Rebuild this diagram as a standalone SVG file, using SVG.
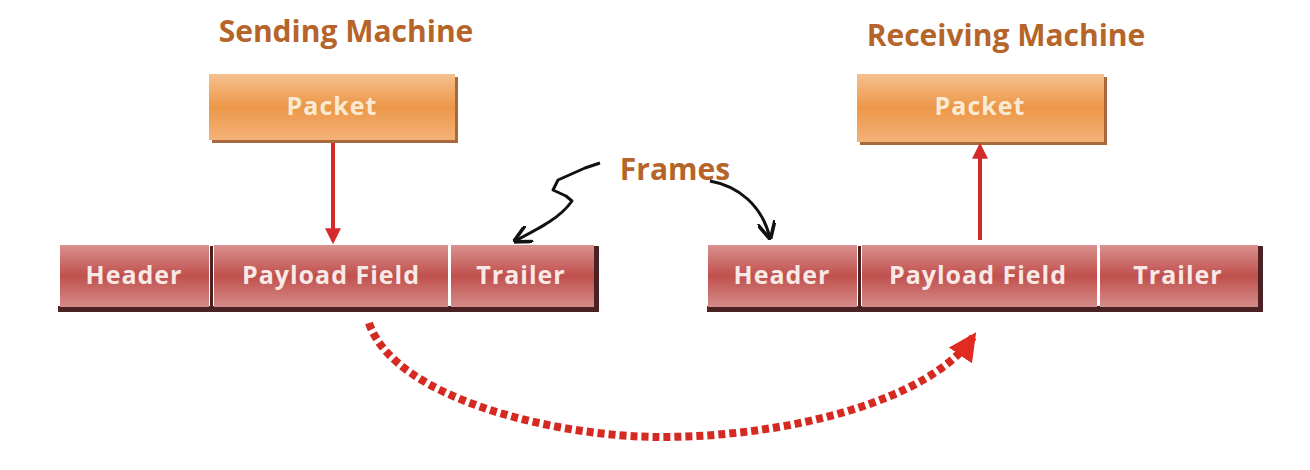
<svg xmlns="http://www.w3.org/2000/svg" width="1310" height="470" viewBox="0 0 1310 470">
<defs>
<linearGradient id="gOrange" x1="0" y1="0" x2="0" y2="1">
<stop offset="0" stop-color="#f6c08f"/>
<stop offset="0.5" stop-color="#ec9748"/>
<stop offset="1" stop-color="#f4b27a"/>
</linearGradient>
<linearGradient id="gRed" x1="0" y1="0" x2="0" y2="1">
<stop offset="0" stop-color="#d9918f"/>
<stop offset="0.5" stop-color="#c0504d"/>
<stop offset="1" stop-color="#d58c8a"/>
</linearGradient>
<marker id="aRed" viewBox="0 0 10 10" refX="8" refY="5" markerWidth="4" markerHeight="4" orient="auto">
<path d="M0,0 L10,5 L0,10 z" fill="#d42a2a"/>
</marker>
<marker id="aRed2" viewBox="0 0 10 10" refX="8" refY="5" markerWidth="3.5" markerHeight="3.5" orient="auto">
<path d="M0,0 L10,5 L0,10 z" fill="#e02a22"/>
</marker>
<marker id="aBlack" viewBox="0 0 10 10" refX="9" refY="5" markerWidth="6" markerHeight="6" orient="auto">
<path d="M0,0 L10,5 L0,10" fill="none" stroke="#111" stroke-width="2"/>
</marker>
</defs>
<style>
.title{font-family:"Open Sans","Liberation Sans",sans-serif;font-weight:bold;font-size:30px;fill:#b5652a;text-anchor:middle;}
.pk{fill:url(#gOrange);}
.sh{fill:#a86a3c;}
.fr{fill:url(#gRed);}
.frsh{fill:#4a2224;}
.lbl{font-family:"Open Sans","Liberation Sans",sans-serif;font-weight:bold;font-size:25px;letter-spacing:1px;fill:#f8e9e6;text-anchor:middle;}
.plbl{font-family:"Open Sans","Liberation Sans",sans-serif;font-weight:bold;font-size:25px;letter-spacing:1px;fill:#fbead2;text-anchor:middle;}
</style>
<rect width="1310" height="470" fill="#ffffff"/>

<g id="title-sending"><text class="title" x="346" y="42">Sending Machine</text></g>
<g id="title-receiving"><text class="title" x="1006" y="46">Receiving Machine</text></g>
<g id="frames-label"><text class="title" x="675" y="180">Frames</text></g>

<g id="packet-send">
<rect class="sh" x="212" y="77" width="246" height="66"/>
<rect class="pk" x="209" y="74" width="246" height="66"/>
<text class="plbl" x="332" y="115">Packet</text>
</g>
<g id="packet-recv">
<rect class="sh" x="860" y="77" width="247" height="68"/>
<rect class="pk" x="857" y="74" width="247" height="68"/>
<text class="plbl" x="980" y="115">Packet</text>
</g>

<g id="frame-send">
<rect class="frsh" x="58" y="306" width="541" height="6"/>
<rect class="frsh" x="594" y="246" width="5" height="66"/>
<g id="send-header"><rect class="fr" x="60" y="245" width="149" height="62"/><text class="lbl" x="134" y="284">Header</text></g>
<rect class="frsh" x="210" y="246" width="3" height="64"/>
<g id="send-payload"><rect class="fr" x="214" y="245" width="234" height="62"/><text class="lbl" x="331" y="284">Payload Field</text></g>
<g id="send-trailer"><rect class="fr" x="451" y="245" width="143" height="62"/><text class="lbl" x="521" y="284">Trailer</text></g>
</g>

<g id="frame-recv">
<rect class="frsh" x="707" y="306" width="555" height="6"/>
<rect class="frsh" x="1258" y="246" width="5" height="66"/>
<g id="recv-header"><rect class="fr" x="708" y="245" width="149" height="62"/><text class="lbl" x="782" y="284">Header</text></g>
<rect class="frsh" x="858" y="246" width="3" height="64"/>
<g id="recv-payload"><rect class="fr" x="862" y="245" width="235" height="62"/><text class="lbl" x="978" y="284">Payload Field</text></g>
<g id="recv-trailer"><rect class="fr" x="1100" y="245" width="158" height="62"/><text class="lbl" x="1178" y="284">Trailer</text></g>
</g>

<g id="connectors">
<line x1="333" y1="143" x2="333" y2="241" stroke="#d42a2a" stroke-width="4" marker-end="url(#aRed)"/>
<line x1="980" y1="240" x2="980" y2="146" stroke="#d42a2a" stroke-width="4" marker-end="url(#aRed)"/>
<path d="M600,163 L585,168 L558,180 L553,190 L566,196 L572,201 C560,218 540,228 515,241" fill="none" stroke="#111" stroke-width="3" stroke-linejoin="round" marker-end="url(#aBlack)"/>
<path d="M710,181 C738,186 762,205 770,238" fill="none" stroke="#111" stroke-width="3" marker-end="url(#aBlack)"/>
<path d="M369,323 C395,400 560,437 660,437 C790,437 930,400 973,337" fill="none" stroke="#d42a22" stroke-width="8" stroke-dasharray="7,4" marker-end="url(#aRed2)"/>
</g>
</svg>
